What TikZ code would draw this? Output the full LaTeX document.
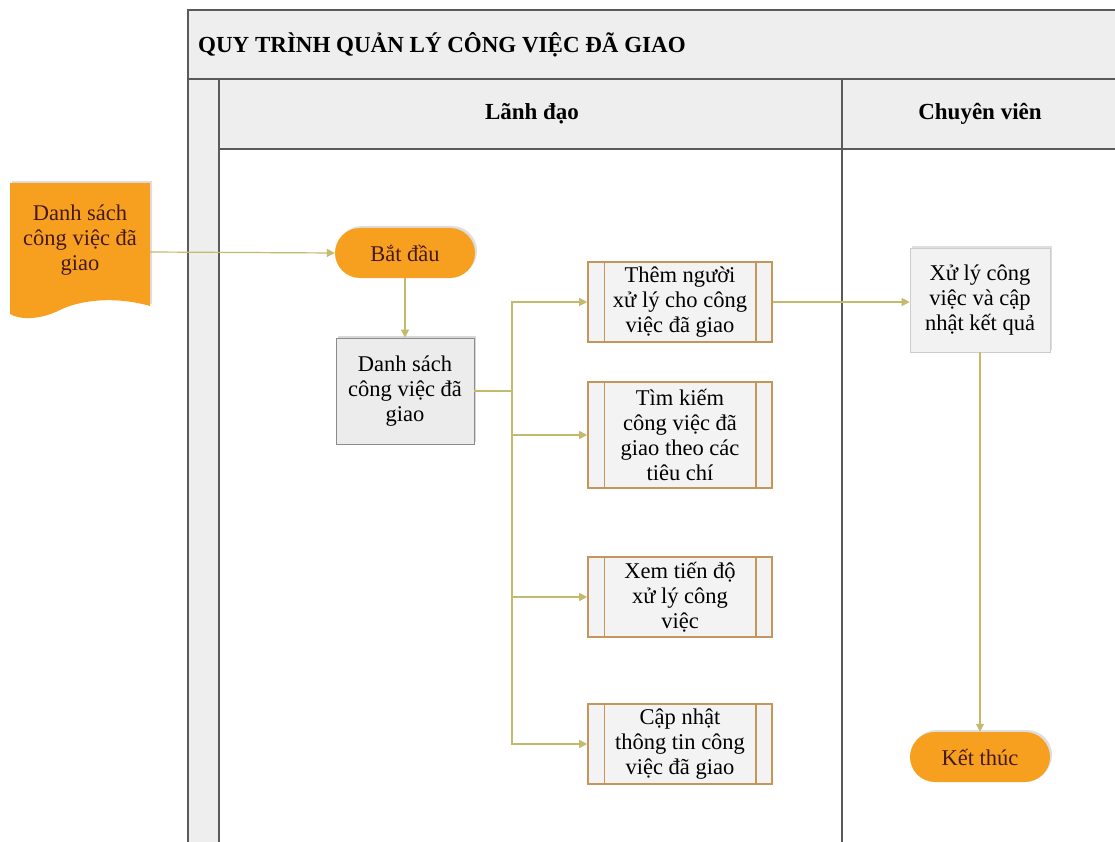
\documentclass[tikz,border=0pt]{standalone}
\usepackage{fontspec}
\setmainfont{Liberation Serif}
\usetikzlibrary{arrows.meta,shadows}
\definecolor{orangefill}{RGB}{247,160,32}
\definecolor{orangetext}{RGB}{70,25,25}
\definecolor{conncol}{RGB}{196,186,110}
\definecolor{headfill}{RGB}{238,238,238}
\definecolor{frame}{RGB}{90,90,90}
\definecolor{boxfill}{RGB}{236,236,236}
\definecolor{subfill}{RGB}{243,243,243}
\definecolor{subedge}{RGB}{196,150,90}
\tikzset{
  txt/.style={font=\fontsize{22.5}{25}\selectfont, align=center, inner sep=0pt},
  terminal/.style={txt, fill=orangefill, text=orangetext, rounded corners=25,
    minimum width=140, minimum height=50,
    drop shadow={shadow xshift=2, shadow yshift=-2, fill=black!25, opacity=0.5}},
  procbox/.style={txt, fill=boxfill, draw=frame!70, line width=0.8,
    minimum width=138, minimum height=106,
    drop shadow={shadow xshift=2, shadow yshift=-2, fill=black!30, opacity=0.5}},
  lightbox/.style={txt, fill=boxfill!70, draw=black!20, line width=0.6,
    minimum width=140, minimum height=104,
    drop shadow={shadow xshift=2, shadow yshift=-2, fill=black!25, opacity=0.5}},
  subproc/.style={txt, fill=subfill, draw=subedge, line width=1.6,
    minimum width=184, minimum height=80},
  conn/.style={draw=conncol, line width=1.2, -{Triangle[length=8,width=8,fill=conncol]}},
  connplain/.style={draw=conncol, line width=1.2},
  bandline/.style={draw=frame, line width=1.2},
  lanelabel/.style={font=\bfseries\fontsize{23}{26}\selectfont, inner sep=0pt},
}
\begin{document}
\begin{tikzpicture}[x=1pt,y=-1pt]
\useasboundingbox (0,0) rectangle (1115,842);

% pool frame, title band and lane header band
\fill[headfill] (188,10) rectangle (1115,150);
\fill[headfill] (188,80) rectangle (220,842);
\fill[white] (220,150) rectangle (1115,842);
\draw[bandline] (1115,10) -- (188,10) -- (188,842);
\draw[bandline] (188,79) -- (1115,79);
\draw[bandline] (219,79) -- (219,842);
\draw[bandline] (219,149) -- (1115,149);
\draw[bandline] (842,79) -- (842,842);

\node[lanelabel, anchor=west] (title) at (198,45)
  {QUY TRÌNH QUẢN LÝ CÔNG VIỆC ĐÃ GIAO};
\node[lanelabel] (laneA) at (532,114) {Lãnh đạo};
\node[lanelabel] (laneB) at (980,114) {Chuyên viên};

% input document
\fill[orangefill, drop shadow={shadow xshift=2, shadow yshift=-2, fill=black!25, opacity=0.5}]
  (10,183) -- (150,183) -- (150,306)
  .. controls (115,296) and (80,300) .. (60,310)
  .. controls (40,320) and (20,320) .. (10,314) -- cycle;
\node[txt, text=orangetext, minimum width=140] (doc) at (80,240)
  {Danh sách\\công việc đã\\giao};

% Leader lane
\node[terminal] (start) at (405,253) {Bắt đầu};
\node[procbox] (list) at (405,391) {Danh sách\\công việc đã\\giao};

\node[subproc] (sp1) at (680,302) {Thêm người\\xử lý cho công\\việc đã giao};
\node[subproc, minimum height=106] (sp2) at (680,435) {Tìm kiếm\\công việc đã\\giao theo các\\tiêu chí};
\node[subproc] (sp3) at (680,597) {Xem tiến độ\\xử lý công\\việc};
\node[subproc] (sp4) at (680,744) {Cập nhật\\thông tin công\\việc đã giao};

\foreach \s in {sp1,sp2,sp3,sp4}{
  \draw[draw=subedge, line width=1.4] ([xshift=17]\s.north west) -- ([xshift=17]\s.south west);
  \draw[draw=subedge, line width=1.4] ([xshift=-17]\s.north east) -- ([xshift=-17]\s.south east);
}

% Specialist lane
\node[lightbox] (work) at (980,300) {Xử lý công\\việc và cập\\nhật kết quả};
\node[terminal] (end) at (980,757) {Kết thúc};

% connectors
\draw[conn] (150,252) -- (start.west);
\draw[conn] (start.south) -- (list.north);
\coordinate (split) at (512,391);
\draw[connplain] (list.east) -- (split);
\draw[conn] (split) |- (sp1.west);
\draw[conn] (split) |- (sp2.west);
\draw[conn] (split) |- (sp3.west);
\draw[conn] (split) |- (sp4.west);
\draw[conn] (sp1.east) -- (work.west |- sp1.east);
\draw[conn] (work.south) -- (end.north);
\end{tikzpicture}
\end{document}
